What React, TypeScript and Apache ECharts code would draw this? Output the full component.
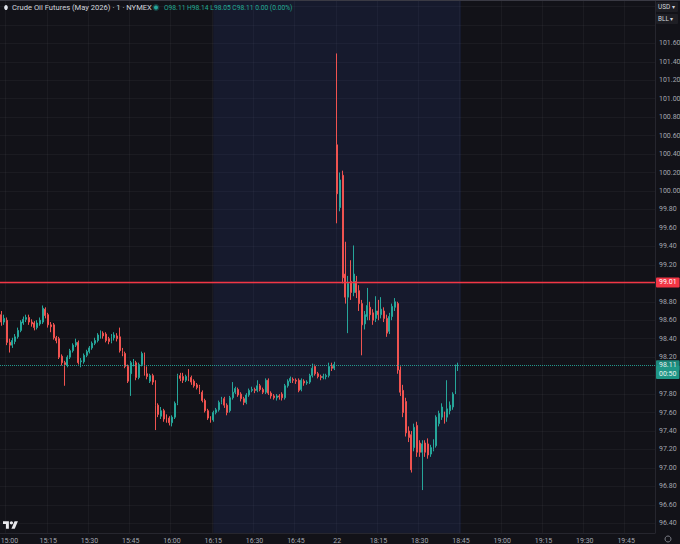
import React, { useEffect, useRef } from "react";
import * as echarts from "echarts";

// ---------- texts ----------
const TITLE = "Crude Oil Futures (May 2026) · 1 · NYMEX";
const CURRENCY = "USD";
const UNIT = "BLL";
const COUNTDOWN = "00:50";

// ---------- axes ----------
const SESSION_TIMES: [string, string][] = [
  ["14:58", "16:59"],
  ["18:00", "19:55"],
];
const TICK_TIMES = [
  "15:00", "15:15", "15:30", "15:45", "16:00", "16:15", "16:30", "16:45",
  "18:00", "18:15", "18:30", "18:45", "19:00", "19:15", "19:30", "19:45",
];
const DAY_BREAK_TIME = "18:00";
const DAY_BREAK_LABEL = "22";
const SHADE_RANGE = ["16:15", "18:45"];
const Y_RANGE = [96.295, 102.069];
const Y_STEP = 0.2;
const Y_LABEL_TOP = 101.7; // labels above this sit under the currency/unit boxes

// ---------- price levels ----------
const ALERT_PRICE = 99.01;
const LAST_PRICE = 98.11;

// ---------- candles [open, close, low, high] ----------
const SESSION1_OHLC: number[][] = [
  [98.66, 98.58, 98.54, 98.70], [98.58, 98.62, 98.55, 98.66], [98.60, 98.36, 98.33, 98.63],
  [98.36, 98.33, 98.25, 98.40], [98.33, 98.38, 98.30, 98.41], [98.37, 98.42, 98.34, 98.45],
  [98.42, 98.49, 98.40, 98.52], [98.49, 98.58, 98.47, 98.60], [98.57, 98.61, 98.55, 98.64],
  [98.61, 98.63, 98.58, 98.66], [98.63, 98.58, 98.55, 98.66], [98.58, 98.56, 98.53, 98.61],
  [98.57, 98.52, 98.49, 98.59], [98.52, 98.57, 98.50, 98.60], [98.56, 98.60, 98.54, 98.63],
  [98.58, 98.73, 98.56, 98.76], [98.72, 98.65, 98.62, 98.74], [98.66, 98.55, 98.52, 98.68],
  [98.55, 98.53, 98.47, 98.58], [98.55, 98.41, 98.39, 98.57], [98.41, 98.38, 98.35, 98.43],
  [98.40, 98.20, 98.18, 98.42], [98.21, 98.14, 98.11, 98.23], [98.14, 98.12, 97.89, 98.16],
  [98.11, 98.20, 98.09, 98.22], [98.20, 98.27, 98.18, 98.29], [98.27, 98.33, 98.25, 98.35],
  [98.33, 98.36, 98.31, 98.40], [98.36, 98.14, 98.12, 98.38], [98.15, 98.16, 98.09, 98.19],
  [98.15, 98.22, 98.13, 98.24], [98.22, 98.26, 98.20, 98.28], [98.26, 98.30, 98.24, 98.32],
  [98.30, 98.35, 98.28, 98.37], [98.35, 98.38, 98.33, 98.41], [98.38, 98.44, 98.36, 98.46],
  [98.43, 98.46, 98.40, 98.49], [98.46, 98.43, 98.40, 98.48], [98.45, 98.38, 98.36, 98.47],
  [98.40, 98.37, 98.34, 98.42], [98.37, 98.42, 98.35, 98.45], [98.41, 98.44, 98.38, 98.47],
  [98.43, 98.40, 98.37, 98.46], [98.42, 98.27, 98.25, 98.52], [98.27, 98.24, 98.21, 98.30],
  [98.24, 98.10, 98.08, 98.26], [98.10, 97.94, 97.92, 98.12], [98.02, 98.14, 97.78, 98.16],
  [98.13, 98.15, 98.10, 98.18], [98.14, 97.98, 97.95, 98.16], [97.98, 98.12, 97.96, 98.14],
  [98.12, 98.24, 98.10, 98.26], [98.23, 98.02, 98.00, 98.25], [98.02, 97.99, 97.96, 98.10],
  [97.94, 98.00, 97.92, 98.02], [98.00, 97.93, 97.90, 98.02], [97.93, 97.68, 97.41, 97.95],
  [97.68, 97.58, 97.55, 97.70], [97.56, 97.62, 97.53, 97.66], [97.62, 97.53, 97.50, 97.64],
  [97.55, 97.52, 97.49, 97.58], [97.54, 97.49, 97.46, 97.56], [97.49, 97.55, 97.45, 97.57],
  [97.55, 97.70, 97.53, 97.72], [97.70, 98.00, 97.68, 98.02], [98.00, 97.97, 97.94, 98.03],
  [97.99, 97.95, 97.92, 98.03], [97.95, 97.99, 97.93, 98.01], [97.98, 97.97, 97.94, 98.07],
  [97.98, 97.93, 97.90, 98.00], [97.94, 97.89, 97.87, 97.96], [97.90, 97.87, 97.85, 97.92],
  [97.88, 97.82, 97.80, 97.90], [97.82, 97.73, 97.71, 97.84], [97.73, 97.62, 97.60, 97.75],
  [97.62, 97.54, 97.52, 97.64], [97.54, 97.52, 97.49, 97.56], [97.52, 97.60, 97.50, 97.62],
  [97.60, 97.63, 97.58, 97.65], [97.63, 97.71, 97.61, 97.73], [97.71, 97.74, 97.69, 97.77],
  [97.75, 97.68, 97.65, 97.77], [97.68, 97.60, 97.57, 97.70], [97.62, 97.76, 97.60, 97.78],
  [97.76, 97.82, 97.74, 97.93], [97.82, 97.86, 97.80, 97.88], [97.85, 97.79, 97.77, 97.87],
  [97.80, 97.75, 97.72, 97.82], [97.75, 97.71, 97.68, 97.77], [97.71, 97.79, 97.69, 97.81],
  [97.79, 97.84, 97.77, 97.86], [97.84, 97.85, 97.82, 97.88], [97.85, 97.84, 97.81, 97.87],
  [97.84, 97.89, 97.82, 97.95], [97.89, 97.85, 97.83, 97.91], [97.85, 97.82, 97.80, 97.87],
  [97.82, 97.95, 97.80, 97.97], [97.95, 97.81, 97.79, 97.97], [97.81, 97.78, 97.75, 97.83],
  [97.78, 97.76, 97.74, 97.80], [97.76, 97.78, 97.73, 97.80], [97.78, 97.77, 97.74, 97.80],
  [97.80, 97.76, 97.73, 97.82], [97.76, 97.89, 97.74, 97.91], [97.89, 97.94, 97.87, 97.96],
  [97.94, 97.97, 97.92, 97.99], [97.96, 97.95, 97.92, 97.98], [97.95, 97.94, 97.91, 97.97],
  [97.95, 97.84, 97.82, 97.97], [97.85, 97.95, 97.83, 97.97], [97.94, 97.92, 97.89, 97.96],
  [97.92, 97.93, 97.90, 97.95], [97.93, 98.00, 97.91, 98.02], [98.00, 98.08, 97.98, 98.13],
  [98.10, 98.02, 98.00, 98.12], [98.02, 97.99, 97.97, 98.04], [97.99, 97.98, 97.95, 98.01],
  [97.98, 97.99, 97.96, 98.02], [97.99, 98.00, 97.96, 98.02], [98.00, 98.10, 97.98, 98.14],
  [98.10, 98.08, 98.05, 98.14], [98.08, 98.12, 98.06, 98.15],
];

const SESSION2_OHLC: number[][] = [
  [100.50, 99.97, 99.65, 101.49], [99.82, 100.12, 99.78, 100.20], [100.17, 99.06, 99.00, 100.22],
  [99.10, 98.85, 98.78, 99.45], [98.85, 99.00, 98.46, 99.08], [99.02, 98.90, 98.82, 99.25],
  [98.90, 99.10, 98.86, 99.41], [99.02, 98.90, 98.84, 99.08], [98.92, 98.78, 98.70, 98.98],
  [98.78, 98.55, 98.22, 98.82], [98.56, 98.66, 98.50, 98.70], [98.64, 98.76, 98.60, 98.95],
  [98.74, 98.66, 98.60, 98.80], [98.68, 98.60, 98.55, 98.72], [98.62, 98.70, 98.58, 98.86],
  [98.70, 98.66, 98.60, 98.82], [98.66, 98.72, 98.62, 98.85], [98.70, 98.62, 98.58, 98.74],
  [98.62, 98.46, 98.42, 98.66], [98.48, 98.64, 98.45, 98.68], [98.64, 98.75, 98.60, 98.78],
  [98.74, 98.80, 98.70, 98.84], [98.78, 98.06, 98.02, 98.80], [98.06, 97.82, 97.78, 98.10],
  [97.84, 97.60, 97.55, 97.90], [97.72, 97.38, 97.34, 97.76], [97.40, 97.33, 97.28, 97.45],
  [97.36, 96.98, 96.95, 97.40], [97.22, 97.44, 97.18, 97.48], [97.46, 97.17, 97.12, 97.50],
  [97.27, 97.17, 97.12, 97.30], [97.17, 97.26, 96.76, 97.30], [97.27, 97.17, 97.12, 97.30],
  [97.26, 97.14, 97.10, 97.32], [97.15, 97.22, 97.12, 97.25], [97.20, 97.28, 97.18, 97.31],
  [97.24, 97.55, 97.22, 97.57], [97.48, 97.59, 97.45, 97.62], [97.55, 97.66, 97.52, 97.70],
  [97.58, 97.52, 97.48, 97.61], [97.55, 97.64, 97.50, 97.95], [97.62, 97.68, 97.58, 97.72],
  [97.66, 97.80, 97.63, 97.82], [97.84, 98.10, 97.80, 98.12], [98.11, 98.11, 98.05, 98.14],
];

// ---------- colours ----------
const BG = "#121218";
const UP = "#26a69a";
const DOWN = "#ef5350";
const ALERT = "#f23645";
const LAST_BOX = "#1f9686";
const GRID_LINE = "rgba(255,255,255,0.04)";
const AXIS_TEXT = "#a3a6af";
const FONT = "Roboto, 'Noto Sans', sans-serif";

const TV_LOGO =
  "M14 22H7V11H0V4h14v18z M28 22h-8l7.5-18h8L28 22z M16 8a4 4 0 1 0 8 0a4 4 0 1 0 -8 0z";

function minuteRange(a: string, b: string): string[] {
  const toMin = (s: string) => {
    const [h, m] = s.split(":").map(Number);
    return h * 60 + m;
  };
  const out: string[] = [];
  for (let t = toMin(a); t <= toMin(b); t++) {
    out.push(
      `${String(Math.floor(t / 60)).padStart(2, "0")}:${String(t % 60).padStart(2, "0")}`
    );
  }
  return out;
}

// price-axis labels hidden beneath the price boxes (as on the reference)
function coveredByBox(v: number): boolean {
  if (v > Y_LABEL_TOP) return true;
  if (v > LAST_PRICE - 0.15 && v < LAST_PRICE + 0.05) return true;
  if (Math.abs(v - ALERT_PRICE) < 0.05) return true;
  return false;
}

let logoRegistered = false;

export default function App() {
  const ref = useRef<HTMLDivElement>(null);

  useEffect(() => {
    if (!ref.current) return;
    if (!logoRegistered) {
      echarts.graphic.registerShape("tvlogo", echarts.graphic.extendPath(TV_LOGO, {}) as any);
      logoRegistered = true;
    }
    const chart = echarts.init(ref.current, null, { renderer: "svg" });

    const categories = SESSION_TIMES.flatMap(([a, b]) => minuteRange(a, b));
    const candles = [...SESSION1_OHLC, ...SESSION2_OHLC];
    const last = SESSION2_OHLC[SESSION2_OHLC.length - 1];
    const chg = last[1] - last[0];
    const ohlcText =
      `O${last[0].toFixed(2)} H${last[3].toFixed(2)} L${last[2].toFixed(2)} ` +
      `C${last[1].toFixed(2)} ${chg.toFixed(2)} (${((chg / last[0]) * 100).toFixed(2)}%)`;
    const isTick = (_i: number, v: string) => TICK_TIMES.includes(v);

    chart.setOption({
      animation: false,
      backgroundColor: BG,
      grid: { left: 0, right: 25, top: 0, bottom: 11, outerBoundsMode: "none", containLabel: false },
      xAxis: {
        type: "category",
        data: categories,
        boundaryGap: true,
        axisLine: { show: true, lineStyle: { color: "#26262e" } },
        axisTick: { show: false },
        axisLabel: {
          interval: isTick,
          color: AXIS_TEXT,
          fontSize: 7,
          fontFamily: FONT,
          margin: 4,
          formatter: (v: string) =>
            v === DAY_BREAK_TIME ? DAY_BREAK_LABEL : v === TICK_TIMES[0] ? `{first|${v}}` : v,
          rich: {
            first: { padding: [0, 0, 0, 5], color: AXIS_TEXT, fontSize: 7, fontFamily: FONT },
          },
        },
        splitLine: { show: true, interval: isTick, lineStyle: { color: GRID_LINE, width: 1 } },
      },
      yAxis: {
        type: "value",
        position: "right",
        min: Y_RANGE[0],
        max: Y_RANGE[1],
        minInterval: Y_STEP,
        maxInterval: Y_STEP,
        splitNumber: 28,
        scale: true,
        axisLine: { show: true, lineStyle: { color: "#26262e" } },
        axisTick: { show: false },
        axisLabel: {
          showMinLabel: false,
          showMaxLabel: false,
          color: AXIS_TEXT,
          fontSize: 7,
          fontFamily: FONT,
          margin: 4,
          formatter: (v: number) => (coveredByBox(v) ? "" : v.toFixed(2)),
        },
        splitLine: { show: true, lineStyle: { color: GRID_LINE, width: 1 } },
      },
      series: [
        {
          type: "candlestick",
          data: candles,
          barWidth: 1.4,
          itemStyle: {
            color: UP,
            color0: DOWN,
            borderColor: UP,
            borderColor0: DOWN,
            borderColorDoji: UP,
            borderWidth: 1,
          },
          markArea: {
            silent: true,
            itemStyle: { color: "rgba(45,71,170,0.15)" },
            data: [[{ xAxis: SHADE_RANGE[0] }, { xAxis: SHADE_RANGE[1] }]],
          },
          markLine: {
            silent: true,
            symbol: ["none", "none"],
            animation: false,
            data: [
              {
                yAxis: ALERT_PRICE,
                lineStyle: { color: ALERT, width: 1.4, type: "solid" },
                label: {
                  show: true,
                  position: "end",
                  distance: 1,
                  formatter: ALERT_PRICE.toFixed(2),
                  color: "#ffffff",
                  backgroundColor: ALERT,
                  fontSize: 7,
                  fontFamily: FONT,
                  padding: [2, 3, 1, 3],
                  borderRadius: 1,
                },
              },
              {
                // countdown box hangs below the last-price line
                yAxis: LAST_PRICE,
                lineStyle: { color: "rgba(0,0,0,0)", width: 0, type: "solid" },
                label: {
                  show: true,
                  position: "end",
                  distance: 1,
                  verticalAlign: "top",
                  formatter: COUNTDOWN,
                  color: "#e8f5f2",
                  backgroundColor: LAST_BOX,
                  fontSize: 7,
                  lineHeight: 7,
                  fontFamily: FONT,
                  padding: [5.5, 3, 1, 3],
                  borderRadius: 1,
                },
              },
              {
                yAxis: LAST_PRICE,
                lineStyle: { color: UP, width: 1, type: "dotted", opacity: 0.9 },
                label: {
                  show: true,
                  position: "end",
                  distance: 1,
                  formatter: LAST_PRICE.toFixed(2),
                  color: "#ffffff",
                  backgroundColor: LAST_BOX,
                  fontSize: 7,
                  lineHeight: 8,
                  fontFamily: FONT,
                  padding: [1.5, 3, 1, 3],
                  borderRadius: 1,
                },
              },
            ],
          },
        },
      ],
      graphic: [
        { type: "line", z: 100, shape: { x1: 0, y1: 0.5, x2: 680, y2: 0.5 }, style: { stroke: "#3a3a44", lineWidth: 1 } },
        { type: "ellipse", z: 100, shape: { cx: 6, cy: 7.5, rx: 1.8, ry: 2.6 }, style: { fill: "#e0e3eb" } },
        {
          type: "text", z: 100, x: 12, y: 7.5,
          style: { text: TITLE, fill: "#d1d4dc", fontSize: 7.6, fontFamily: FONT, verticalAlign: "middle" },
        },
        { type: "circle", z: 100, shape: { cx: 156, cy: 7.5, r: 3.4 }, style: { fill: "rgba(38,166,154,0.3)" } },
        { type: "circle", z: 100, shape: { cx: 156, cy: 7.5, r: 2 }, style: { fill: UP } },
        {
          type: "text", z: 100, x: 164, y: 7.5,
          style: { text: ohlcText, fill: "#22ab94", fontSize: 6.7, fontFamily: FONT, verticalAlign: "middle" },
        },
        { type: "rect", z: 100, shape: { x: 656, y: 2, width: 22, height: 10, r: 1 }, style: { fill: "#1e1e24" } },
        {
          type: "text", z: 101, x: 658, y: 7,
          style: { text: CURRENCY + " ▾", fill: "#d1d4dc", fontSize: 6.4, fontFamily: FONT, verticalAlign: "middle" },
        },
        { type: "rect", z: 100, shape: { x: 656, y: 14, width: 22, height: 10, r: 1 }, style: { fill: "#1e1e24" } },
        {
          type: "text", z: 101, x: 658, y: 19,
          style: { text: UNIT + " ▾", fill: "#d1d4dc", fontSize: 6.4, fontFamily: FONT, verticalAlign: "middle" },
        },
        {
          type: "tvlogo", z: 100, x: 3, y: 519.5, scaleX: 0.42, scaleY: 0.42,
          style: { fill: "#e8e8ec" },
        },
        { type: "circle", z: 100, shape: { cx: 668, cy: 539, r: 3 }, style: { fill: "none", stroke: "#9598a1", lineWidth: 0.8 } },
      ],
    } as any);

    return () => chart.dispose();
  }, []);

  return (
    <div
      ref={ref}
      style={{ position: "fixed", left: 0, top: 0, width: 680, height: 544 }}
    />
  );
}
